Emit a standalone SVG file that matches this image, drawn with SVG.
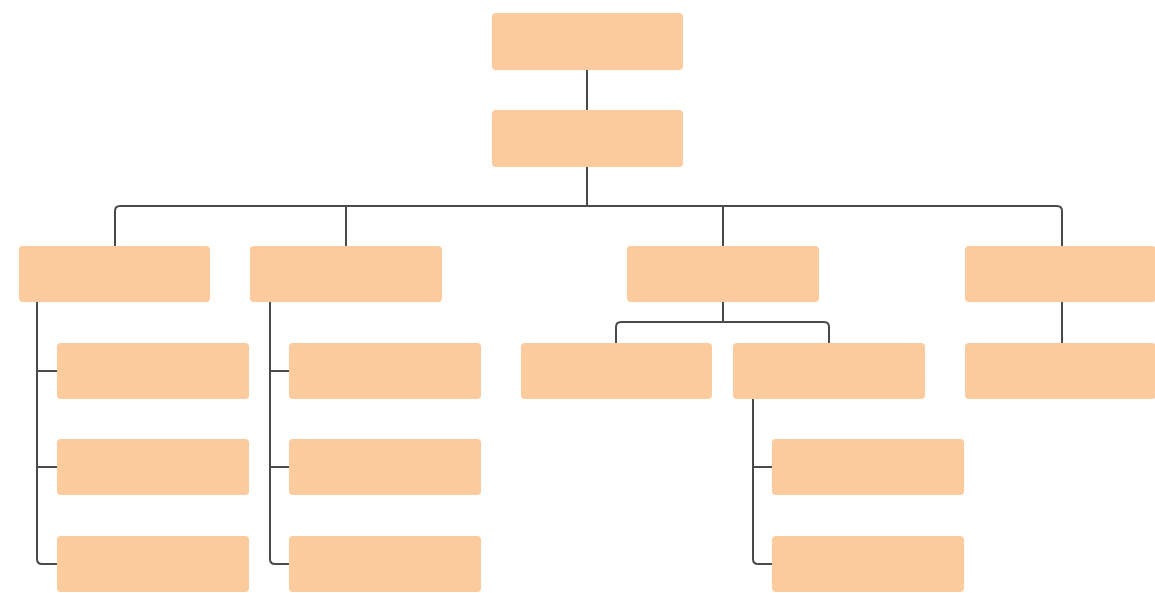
<svg xmlns="http://www.w3.org/2000/svg" width="1155" height="593" viewBox="0 0 1155 593">
<style>
.n{fill:#FBCB9D;}
.c{fill:none;stroke:#4a4a4a;stroke-width:2;stroke-linejoin:round;stroke-linecap:butt;}
</style>
<rect width="1155" height="593" fill="#ffffff"/>
<g id="connectors">
<path class="c" d="M587 70V110"/>
<path class="c" d="M587 167V206"/>
<path class="c" d="M115 246V211Q115 206 120 206H1057Q1062 206 1062 211V246"/>
<path class="c" d="M346 206V246"/>
<path class="c" d="M723 206V246"/>
<path class="c" d="M37 302V559Q37 564 42 564H57"/>
<path class="c" d="M37 371H57M37 467H57"/>
<path class="c" d="M270 302V559Q270 564 275 564H289"/>
<path class="c" d="M270 371H289M270 467H289"/>
<path class="c" d="M723 302V322"/>
<path class="c" d="M616 343V327Q616 322 621 322H824Q829 322 829 327V343"/>
<path class="c" d="M753 398V559Q753 564 758 564H772"/>
<path class="c" d="M753 467H772"/>
<path class="c" d="M1062 302V343"/>
</g>
<g id="n1"><rect class="n" x="492" y="13" width="191" height="57" rx="4"/></g>
<g id="n2"><rect class="n" x="492" y="110" width="191" height="57" rx="4"/></g>
<g id="n3"><rect class="n" x="19" y="246" width="191" height="56" rx="4"/></g>
<g id="n4"><rect class="n" x="250" y="246" width="192" height="56" rx="4"/></g>
<g id="n5"><rect class="n" x="627" y="246" width="192" height="56" rx="4"/></g>
<g id="n6"><rect class="n" x="965" y="246" width="191" height="56" rx="4"/></g>
<g id="n7"><rect class="n" x="57" y="343" width="192" height="56" rx="4"/></g>
<g id="n8"><rect class="n" x="57" y="439" width="192" height="56" rx="4"/></g>
<g id="n9"><rect class="n" x="57" y="536" width="192" height="56" rx="4"/></g>
<g id="n10"><rect class="n" x="289" y="343" width="192" height="56" rx="4"/></g>
<g id="n11"><rect class="n" x="289" y="439" width="192" height="56" rx="4"/></g>
<g id="n12"><rect class="n" x="289" y="536" width="192" height="56" rx="4"/></g>
<g id="n13"><rect class="n" x="521" y="343" width="191" height="56" rx="4"/></g>
<g id="n14"><rect class="n" x="733" y="343" width="192" height="56" rx="4"/></g>
<g id="n15"><rect class="n" x="772" y="439" width="192" height="56" rx="4"/></g>
<g id="n16"><rect class="n" x="772" y="536" width="192" height="56" rx="4"/></g>
<g id="n17"><rect class="n" x="965" y="343" width="191" height="56" rx="4"/></g>
</svg>
